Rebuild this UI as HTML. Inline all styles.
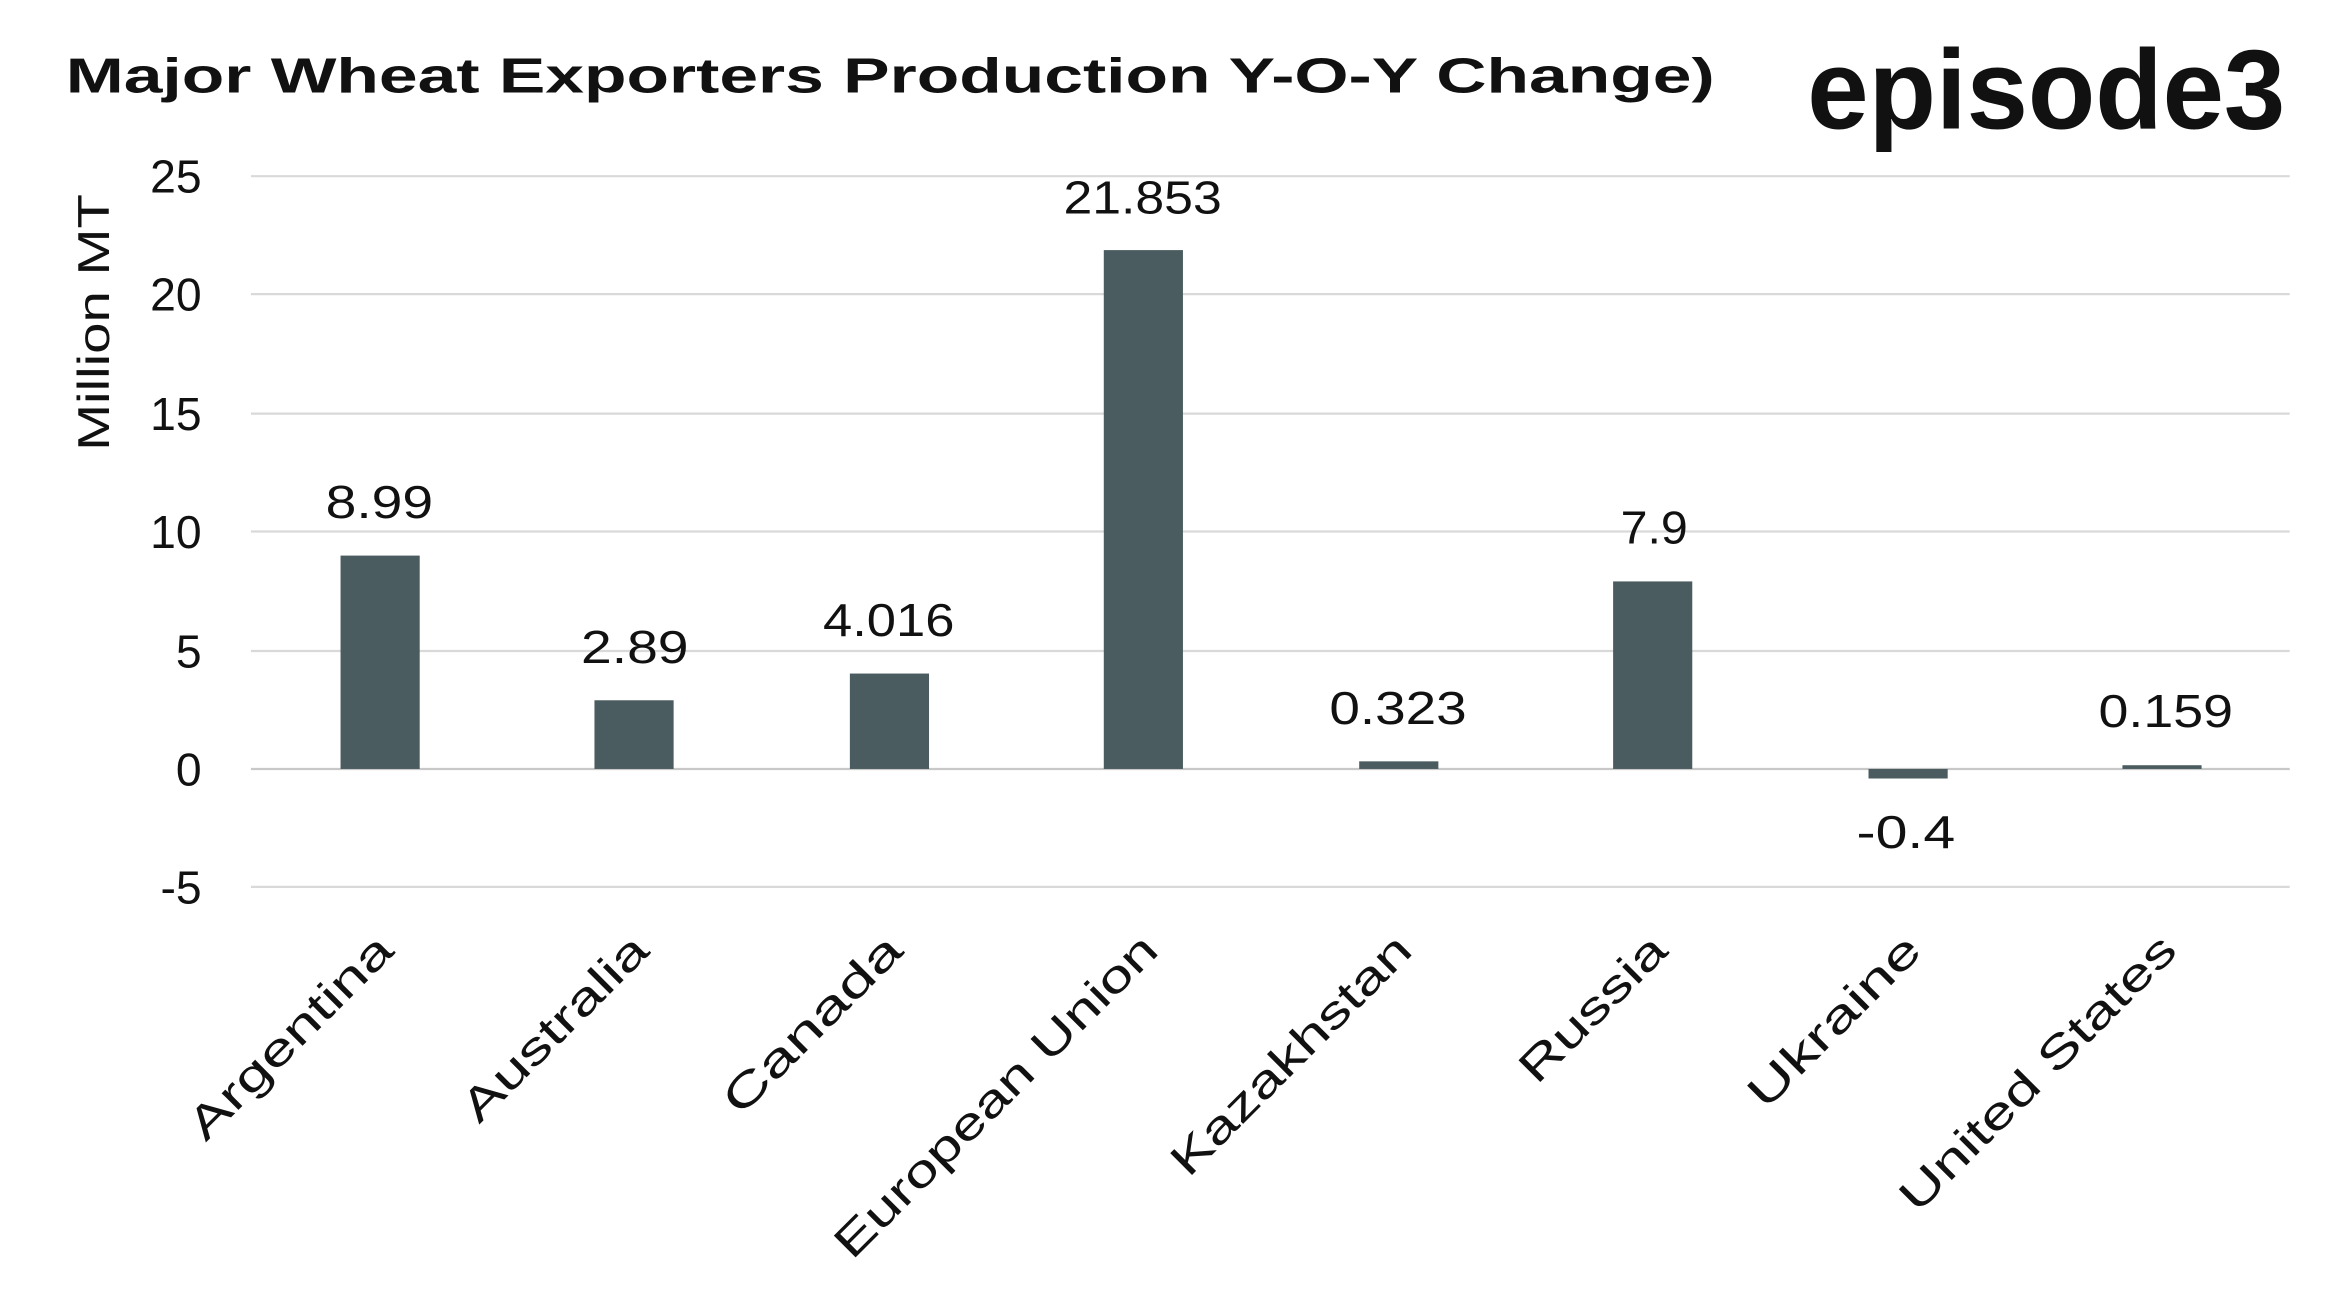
<!DOCTYPE html>
<html><head><meta charset="utf-8"><style>
html,body{margin:0;padding:0;background:#fff;}
svg{display:block;}
text{font-family:"Liberation Sans",sans-serif;fill:#111;}
</style></head><body>
<svg width="2342" height="1302" viewBox="0 0 1568 872" preserveAspectRatio="none" xmlns="http://www.w3.org/2000/svg">
<rect width="1568" height="872" fill="#fff"/>
<text x="44" y="62" font-size="33" font-weight="bold" textLength="1104" lengthAdjust="spacingAndGlyphs">Major Wheat Exporters Production  Y-O-Y Change)</text>
<text x="1210" y="86" font-size="76" font-weight="bold" textLength="320" lengthAdjust="spacingAndGlyphs">episode3</text>
<g stroke="#d9d9d9" stroke-width="1.5">
<line x1="168" x2="1533" y1="118" y2="118"/>
<line x1="168" x2="1533" y1="197" y2="197"/>
<line x1="168" x2="1533" y1="277" y2="277"/>
<line x1="168" x2="1533" y1="356" y2="356"/>
<line x1="168" x2="1533" y1="436" y2="436"/>
<line x1="168" x2="1533" y1="594" y2="594"/>
<line x1="168" x2="1533" y1="515" y2="515" stroke="#c8c8c8"/>
</g>
<g font-size="31" text-anchor="end">
<text x="135" y="129">25</text>
<text x="135" y="208">20</text>
<text x="135" y="288">15</text>
<text x="135" y="367">10</text>
<text x="135" y="447">5</text>
<text x="135" y="526">0</text>
<text x="135" y="605">-5</text>
</g>
<text transform="translate(73,216) rotate(-90)" font-size="30" text-anchor="middle" textLength="172" lengthAdjust="spacingAndGlyphs">Million MT</text>
<g fill="#4a5c5f">
<rect x="228" y="372.1" width="53" height="142.9"/>
<rect x="398" y="469" width="53" height="46"/>
<rect x="569" y="451.1" width="53" height="63.9"/>
<rect x="739" y="167.5" width="53" height="347.5"/>
<rect x="910" y="509.9" width="53" height="5.1"/>
<rect x="1080" y="389.4" width="53" height="125.6"/>
<rect x="1251" y="515" width="53" height="6.4"/>
<rect x="1421" y="512.5" width="53" height="2.5"/>
</g>
<g font-size="31">
<text x="218" y="347" textLength="72" lengthAdjust="spacingAndGlyphs">8.99</text>
<text x="389" y="444" textLength="72" lengthAdjust="spacingAndGlyphs">2.89</text>
<text x="551" y="426" textLength="88" lengthAdjust="spacingAndGlyphs">4.016</text>
<text x="712" y="143" textLength="106" lengthAdjust="spacingAndGlyphs">21.853</text>
<text x="890" y="485" textLength="92" lengthAdjust="spacingAndGlyphs">0.323</text>
<text x="1085" y="364" textLength="45" lengthAdjust="spacingAndGlyphs">7.9</text>
<text x="1243" y="568" textLength="66" lengthAdjust="spacingAndGlyphs">-0.4</text>
<text x="1405" y="487" textLength="90" lengthAdjust="spacingAndGlyphs">0.159</text>
</g>
<g font-size="30" text-anchor="end">
<text transform="translate(265,638) rotate(-45)" textLength="180" lengthAdjust="spacingAndGlyphs">Argentina</text>
<text transform="translate(436,638) rotate(-45)" textLength="163" lengthAdjust="spacingAndGlyphs">Australia</text>
<text transform="translate(606,638) rotate(-45)" textLength="156" lengthAdjust="spacingAndGlyphs">Canada</text>
<text transform="translate(777,638) rotate(-45)" textLength="292" lengthAdjust="spacingAndGlyphs">European Union</text>
<text transform="translate(947,638) rotate(-45)" textLength="214" lengthAdjust="spacingAndGlyphs">Kazakhstan</text>
<text transform="translate(1118,638) rotate(-45)" textLength="126" lengthAdjust="spacingAndGlyphs">Russia</text>
<text transform="translate(1288,638) rotate(-45)" textLength="150" lengthAdjust="spacingAndGlyphs">Ukraine</text>
<text transform="translate(1459,638) rotate(-45)" textLength="248" lengthAdjust="spacingAndGlyphs">United States</text>
</g>
</svg>
</body></html>
